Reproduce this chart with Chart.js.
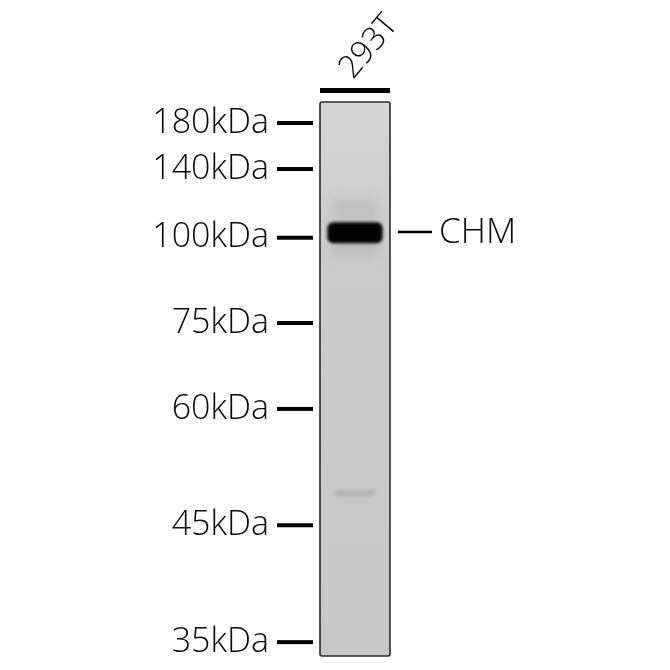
<!DOCTYPE html>
<html>
<head>
<meta charset="utf-8">
<script src="https://cdn.jsdelivr.net/npm/chart.js@4"></script>
<style>
  html, body { margin: 0; padding: 0; background: #fff; }
  #blot { display: block; }
</style>
</head>
<body>
<canvas id="blot" width="670" height="670"></canvas>
<script>
// lane ------------------------------------------------------------------------------------
var lanes = [ '293T' ]

// marker ladder (kDa) and where each one ran in the lane (% of lane length)
var markerKDa = [ 180, 140, 100, 75, 60, 45, 35 ]
var markerMobility = [ 3.8, 12.1, 24.5, 39.9, 55.4, 76.4, 97.5 ]

// bands: [start, end] mobility for each band
var bandNames = [ 'CHM', '' ]
var bandRanges = [ [21.7, 25.5], [70.0, 71.2] ]
var bandColors = [ '#030303', 'rgba(155,155,155,0.45)' ]
var bandWidths = [ 0.79, 0.58 ]

var ctx = document.getElementById('blot');

// lane background, marker dashes, lane bar + name, band label
var blotPlugin = {
  id: 'blot',
  beforeDatasetsDraw: function (chart) {
    var c = chart.ctx, a = chart.chartArea;
    c.save();
    var g = c.createLinearGradient(0, a.top, 0, a.bottom);
    g.addColorStop(0, '#d5d5d5');
    g.addColorStop(0.3, '#cbcbcb');
    g.addColorStop(1, '#c7c7c7');
    c.fillStyle = g;
    c.fillRect(a.left, a.top, a.right - a.left, a.bottom - a.top);
    // diffuse haze around the main band
    var y = chart.scales.y;
    c.filter = 'blur(6px)';
    c.fillStyle = 'rgba(165,165,165,0.35)';
    c.fillRect(a.left + 12, y.getPixelForValue(17.5), a.right - a.left - 24, y.getPixelForValue(28) - y.getPixelForValue(17.5));
    c.restore();
  },
  beforeDatasetDraw: function (chart) {
    chart.ctx.save();
    chart.ctx.filter = 'blur(1.5px)';
  },
  afterDatasetDraw: function (chart) {
    chart.ctx.restore();
  },
  afterDraw: function (chart) {
    var c = chart.ctx, a = chart.chartArea, y = chart.scales.y, x = chart.scales.x;
    c.save();
    // lane outline
    c.strokeStyle = '#2a2a2a';
    c.lineWidth = 1.6;
    c.beginPath();
    c.roundRect(a.left, a.top, a.right - a.left, a.bottom - a.top, 2);
    c.stroke();
    // marker dashes
    c.fillStyle = '#000';
    markerMobility.forEach(function (m) {
      var py = y.getPixelForValue(m);
      c.fillRect(a.left - 43, py - 2, 36, 4);
    });
    // lane bar + name
    c.fillRect(a.left, a.top - 14, a.right - a.left, 5);
    c.fillStyle = '#0a0a0a';
    c.font = '300 32px "Open Sans"';
    c.textBaseline = 'alphabetic';
    c.textAlign = 'left';
    c.translate(x.getPixelForValue(0) - 2, a.top - 22);
    c.rotate(-50 * Math.PI / 180);
    c.fillText(lanes[0], 0, 0);
    c.restore();
    // band names
    c.save();
    bandNames.forEach(function (n, i) {
      if (!n) return;
      var py = y.getPixelForValue((bandRanges[i][0] + bandRanges[i][1]) / 2) - 1;
      c.fillStyle = '#000';
      c.fillRect(a.right + 8, py - 1, 34, 2.5);
      c.fillStyle = '#0a0a0a';
      c.font = '300 35px "Open Sans"';
      c.textBaseline = 'middle';
      c.fillText(n, a.right + 49, py + 1);
    });
    c.restore();
  }
};

var datasets = bandRanges.map(function (r, i) {
  return {
    data: [ r ],
    backgroundColor: bandColors[i],
    borderSkipped: false,
    borderRadius: 6,
    barPercentage: bandWidths[i],
    categoryPercentage: 1,
    grouped: false
  };
});

var blot = new Chart(ctx, {
  type: 'bar',
  data: { labels: lanes, datasets: datasets },
  plugins: [ blotPlugin ],
  options: {
    responsive: false,
    animation: false,
    layout: { padding: { top: 102, bottom: 14, right: 280, left: 0 } },
    plugins: { legend: { display: false }, tooltip: { enabled: false } },
    scales: {
      x: { display: false },
      y: {
        min: 0,
        max: 100,
        reverse: true,
        afterFit: function (scale) {
          scale.width = 320;
          // tick padding should only push labels sideways, not squeeze the lane
          scale.paddingTop = 0;
          scale.paddingBottom = 0;
        },
        afterBuildTicks: function (scale) {
          scale.ticks = markerMobility.map(function (v) { return { value: v }; });
        },
        grid: { display: false, drawTicks: false },
        border: { display: false },
        ticks: {
          padding: 51,
          color: '#0a0a0a',
          font: { family: 'Open Sans', size: 34, weight: 300 },
          callback: function (v, i) { return markerKDa[i] + 'kDa'; }
        }
      }
    }
  }
});
</script>
</body>
</html>
